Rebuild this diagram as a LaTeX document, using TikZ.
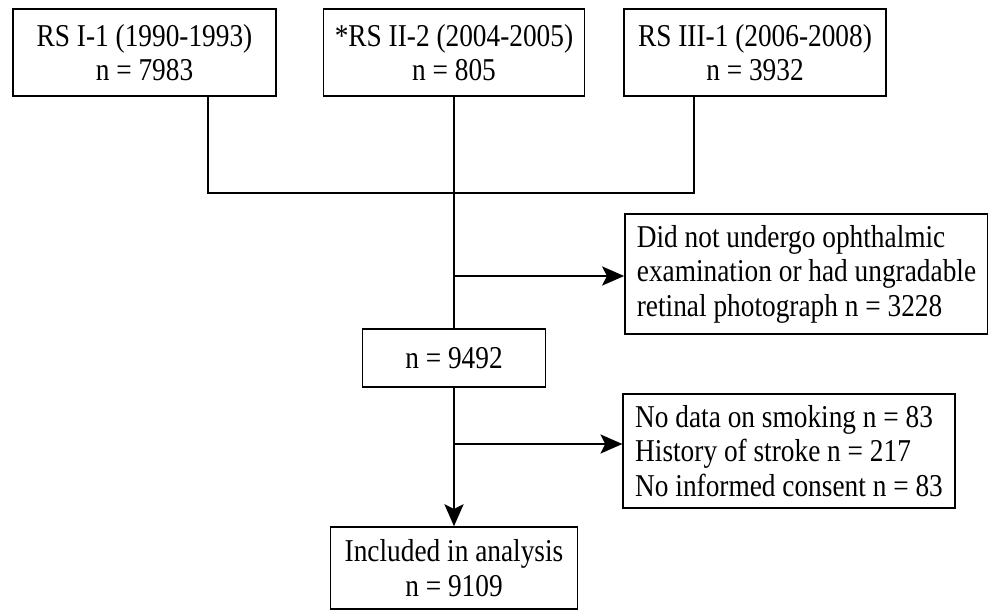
\documentclass[tikz,border=0pt]{standalone}
\usepackage{fontspec}
\setmainfont[FakeStretch=0.86]{Liberation Serif}
\usepackage{tikz}
\usetikzlibrary{arrows.meta,positioning}

\begin{document}
\begin{tikzpicture}[
  x=0.025cm, y=-0.025cm,
  font=\fontsize{22.6}{24.6}\selectfont,
  box/.style={rectangle, draw=black, line width=1.1pt, inner sep=0pt, align=center},
  lbox/.style={box, align=left},
  line/.style={line width=1.1pt},
  arr/.style={line width=1.1pt, -{Stealth[length=0.55cm, width=0.48cm, inset=0.12cm]}}
]
\useasboundingbox (0,0) rectangle (988,611);

%% Cohorts
\node[box, minimum width=6.575cm, minimum height=2.175cm] (rs1) at (144.5,52.5) {RS I-1 (1990-1993)\\n = 7983};
\node[box, minimum width=6.525cm, minimum height=2.175cm] (rs2) at (454,52.5) {*RS II-2 (2004-2005)\\n = 805};
\node[box, minimum width=6.55cm, minimum height=2.175cm] (rs3) at (755,52.5) {RS III-1 (2006-2008)\\n = 3932};

%% Pooled
\node[box, minimum width=4.575cm, minimum height=1.45cm] (pool) at (454,358) {n = 9492};

%% Exclusions
\node[lbox, minimum width=9.025cm, minimum height=3.0cm, inner xsep=0.3cm] (exa) at (806.5,274)
  {Did not undergo ophthalmic\\examination or had ungradable\\retinal photograph n = 3228};
\node[lbox, minimum width=8.15cm, minimum height=2.85cm, inner xsep=0.3cm] (exb) at (789,451)
  {No data on smoking n = 83\\History of stroke n = 217\\No informed consent n = 83};

%% Final
\node[box, minimum width=6.175cm, minimum height=2.05cm] (incl) at (454,568) {Included in analysis\\n = 9109};

%% Joins
\coordinate (j1) at (208,193);
\coordinate (j3) at (694,193);
\coordinate (s1) at (454,276);
\coordinate (s2) at (454,444);

%% Lines
\draw[line] (rs1.south -| j1) -- (j1) -- (j3) -- (rs3.south -| j3);
\draw[line] (rs2.south) -- (pool.north);
\draw[arr] (s1) -- (s1 -| exa.west);
\draw[arr] (pool.south) -- (incl.north);
\draw[arr] (s2) -- (s2 -| exb.west);

\end{tikzpicture}
\end{document}
